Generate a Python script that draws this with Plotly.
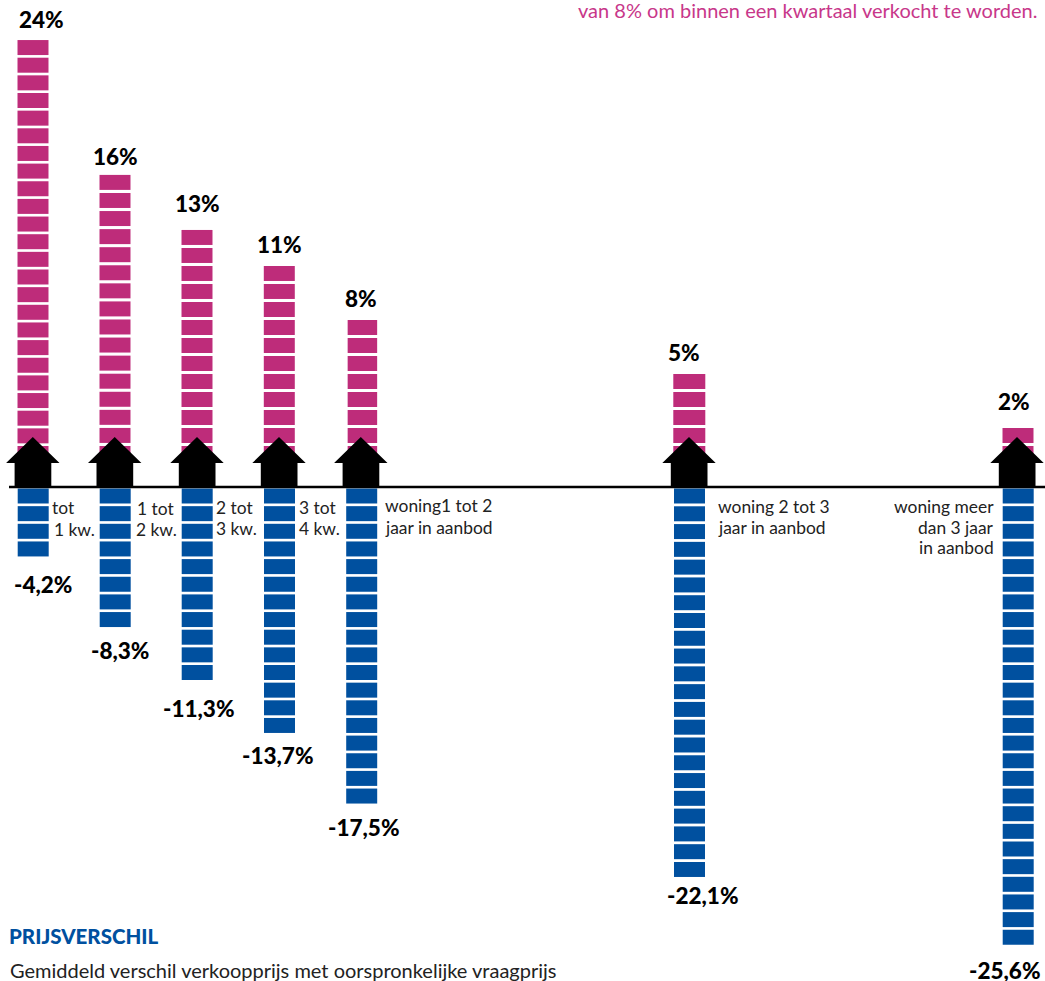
import plotly.graph_objects as go

# ---------- data ----------
categories = ["tot 1 kw.", "1 tot 2 kw.", "2 tot 3 kw.", "3 tot 4 kw.",
              "woning 1 tot 2 jaar", "woning 2 tot 3 jaar", "woning meer dan 3 jaar"]
kans_verkocht = [24, 16, 13, 11, 8, 5, 2]
prijsverschil = [-4.2, -8.3, -11.3, -13.7, -17.5, -22.1, -25.6]

# ---------- layout constants (pixels of the 1045x981 page) ----------
W, H = 1045, 981
BASE_PX = 487.0
UNIT_PX = 17.65
x_center = [33.2, 115.2, 197.2, 279.5, 361.7, 689.5, 1018.2]
house_x = [32.8, 114.7, 197.0, 279.0, 360.8, 689.0, 1017.0]
pink_width = [31, 31, 31, 31, 29.5, 32, 31]
blue_width = [31, 31, 31, 31, 31, 31, 31]
pink_pitch = [1.0, 1.024, 1.02, 1.02, 1.02, 1.02, 1.02]
blue_pitch = [1.0, 1.0, 1.0, 1.0, 1.0, 1.0076, 1.0]
BLOCK = 15.0 / UNIT_PX
PINK_BASE = (BASE_PX - 461.0) / UNIT_PX
BLUE_BASE = -(488.5 - BASE_PX) / UNIT_PX
PINK = "#BE2C7A"
BLUE = "#00509F"
INK = "#222222"
FONT = "Lato"


def y_of(px):
    return (BASE_PX - px) / UNIT_PX


fig = go.Figure()

for i, (pct, diff) in enumerate(zip(kans_verkocht, prijsverschil)):
    n_pink = pct
    n_blue = round(abs(diff))
    fig.add_trace(go.Bar(
        x=[x_center[i] - (0.2 if i != 4 else -0.7)] * n_pink,
        y=[BLOCK] * n_pink,
        base=[PINK_BASE + k * pink_pitch[i] for k in range(n_pink)],
        width=pink_width[i], marker=dict(color=PINK, line=dict(width=0)),
        name=categories[i], showlegend=False, hoverinfo="skip"))
    fig.add_trace(go.Bar(
        x=[x_center[i]] * n_blue,
        y=[-BLOCK] * n_blue,
        base=[BLUE_BASE - k * blue_pitch[i] for k in range(n_blue)],
        width=blue_width[i], marker=dict(color=BLUE, line=dict(width=0)),
        name=categories[i], showlegend=False, hoverinfo="skip"))

# house markers
for cx in house_x:
    fig.add_trace(go.Scatter(
        x=[cx, cx + 26.7, cx + 18.5, cx + 18.5, cx - 18.2, cx - 18.2, cx - 26.7, cx],
        y=[y_of(437), y_of(463), y_of(463), y_of(487), y_of(487), y_of(463), y_of(463), y_of(437)],
        mode="lines", fill="toself", fillcolor="#000000", line=dict(width=0, color="#000000"),
        showlegend=False, hoverinfo="skip"))

# baseline
fig.add_trace(go.Scatter(x=[9, W], y=[0, 0], mode="lines",
                         line=dict(color="#000000", width=2.6),
                         showlegend=False, hoverinfo="skip"))

annotations = []


def text(s, x, py, size, color=INK, anchor="left", weight=400):
    shift = {"left": -2, "right": 2, "center": 0}[anchor]
    annotations.append(dict(
        text=s, x=x, y=y_of(py), xref="x", yref="y", showarrow=False,
        xanchor=anchor, yanchor="middle", align=anchor, xshift=shift,
        font=dict(family=FONT, size=size, color=color, weight=weight)))


pct_pos = [(41, 19), (115, 156), (197, 203), (279, 244), (361, 298), (684, 352), (1014, 401)]
for v, (x, py) in zip(kans_verkocht, pct_pos):
    text(f"{v}%", x, py, 22.5, "#000000", "center", 900)

diff_pos = [(43, 584), (120, 650), (198, 708), (277, 755), (363, 827), (702, 895), (1004, 970)]
for v, (x, py) in zip(prijsverschil, diff_pos):
    text(f"{v:.1f}".replace(".", ",") + "%", x, py, 22.5, "#000000", "center", 900)

small = [
    ("tot", 52, 507, "left"), ("1 kw.", 54, 529, "left"),
    ("1 tot", 137, 508, "left"), ("2 kw.", 136, 529, "left"),
    ("2 tot", 216, 507, "left"), ("3 kw.", 216, 528, "left"),
    ("3 tot", 299, 507, "left"), ("4 kw.", 299, 528, "left"),
    ("woning1 tot 2", 385, 505, "left"), ("jaar in aanbod", 385, 527, "left"),
    ("woning 2 tot 3", 718, 506, "left"), ("jaar in aanbod", 718, 527, "left"),
    ("woning meer", 994, 506, "right"), ("dan 3 jaar", 994, 527, "right"),
    ("in aanbod", 994, 547, "right"),
]
for s, x, py, a in small:
    text(s, x, py, 17.4, INK, a)

text("PRIJSVERSCHIL", 9, 936, 20.5, BLUE, "left", 900)
text("Gemiddeld verschil verkoopprijs met oorspronkelijke vraagprijs", 10, 970, 20, INK)
text("van 8% om binnen een kwartaal verkocht te worden.", 1037, 10, 20, "#C8378A", "right")

fig.update_layout(
    width=W, height=H, margin=dict(l=0, r=0, t=0, b=0),
    paper_bgcolor="#ffffff", plot_bgcolor="#ffffff",
    barmode="overlay", showlegend=False, annotations=annotations,
    xaxis=dict(range=[0, W], visible=False, fixedrange=True),
    yaxis=dict(range=[y_of(H), y_of(0)], visible=False, fixedrange=True),
)

fig.write_html("out.html", config={"displayModeBar": False},
               post_script="document.body.style.margin='0';document.body.style.overflow='hidden';")
